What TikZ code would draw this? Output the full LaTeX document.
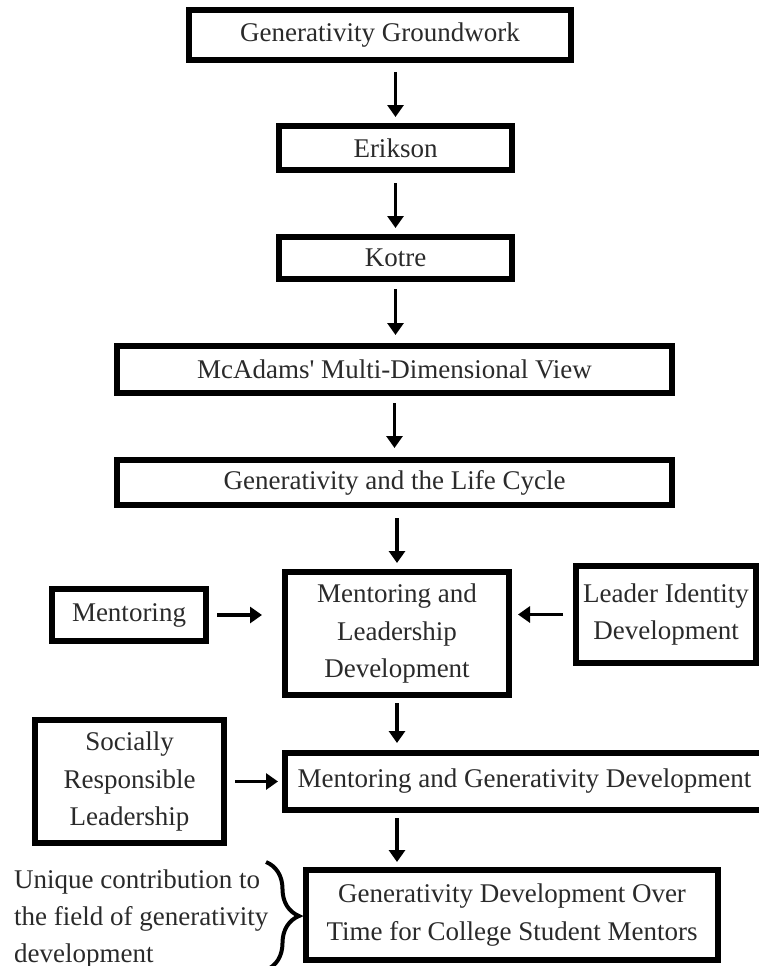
\documentclass[tikz,border=0pt]{standalone}
\usepackage{fontspec}
\setmainfont{Liberation Serif}
\usetikzlibrary{arrows.meta,decorations.pathreplacing,calc}
\definecolor{txt}{HTML}{2A2A2A}
\tikzset{
  bx/.style={draw=black, line width=5.5pt, align=center, text=txt, inner sep=0pt, outer sep=0pt,
    font=\fontsize{27}{37.5}\selectfont},
  arr/.style={line width=3.5pt, -{Triangle[width=16pt,length=12pt]}},
  lbl/.style={text=txt, align=left, inner sep=0pt, font=\fontsize{27}{37}\selectfont}
}
\begin{document}
\begin{tikzpicture}[x=1pt,y=-1pt]
\useasboundingbox (0,0) rectangle (759,966);
\clip (0,0) rectangle (759,966);
% boxes
\node[bx, minimum width=382, minimum height=50] (gg) at (380,35) {Generativity Groundwork};
\node[bx, minimum width=233, minimum height=44] (er) at (395.5,148) {Erikson};
\node[bx, minimum width=233, minimum height=42] (ko) at (395.5,258) {Kotre};
\node[bx, minimum width=555, minimum height=47] (mc) at (394.5,369.5) {McAdams\textquotesingle{} Multi-Dimensional View};
\node[bx, minimum width=555, minimum height=45] (lc) at (394.5,482.5) {Generativity and the Life Cycle};
\node[bx, minimum width=224, minimum height=123] (mld) at (397,633.5) {Mentoring and\\Leadership\\Development};
\node[bx, minimum width=154, minimum height=52] (me) at (129,615) {Mentoring};
\node[bx, minimum width=180, minimum height=97] (lid) at (666,614.5) {Leader Identity\\Development};
\node[bx, minimum width=189, minimum height=123] (srl) at (129.5,781.5) {Socially\\Responsible\\Leadership};
\node[bx, minimum width=479, minimum height=57] (mgd) at (524.5,781.5) {Mentoring and Generativity Development};
\node[bx, minimum width=412, minimum height=90] (gdt) at (512,915) {Generativity Development Over\\Time for College Student Mentors};
% vertical arrows
\draw[arr, shorten <=12pt, shorten >=9pt] (er.north |- gg.south) -- (er.north);
\draw[arr, shorten <=13pt, shorten >=9pt] (er.south) -- (ko.north);
\draw[arr, shorten <=10pt, shorten >=11pt] (ko.south) -- (ko.south |- mc.north);
\draw[arr, shorten <=10pt, shorten >=12pt] (mc.south) -- (lc.north);
\draw[arr, shorten <=13pt, shorten >=9pt] (mld.north |- lc.south) -- (mld.north);
\draw[arr, shorten <=8pt, shorten >=10pt] (mld.south) -- (mld.south |- mgd.north);
\draw[arr, shorten <=8pt, shorten >=8pt] (mld.south |- mgd.south) -- (mld.south |- gdt.north);
% horizontal arrows
\draw[arr, shorten <=11pt, shorten >=23pt] (me.east) -- (me.east -| mld.west);
\draw[arr, shorten <=13pt, shorten >=9pt] (lid.west) -- (lid.west -| mld.east);
\draw[arr, shorten <=11pt, shorten >=7pt] (srl.east) -- (srl.east -| mgd.west);
% brace and side note
\coordinate (bt) at (266,862);
\coordinate (bb) at (266,970);
\draw[line width=4pt, decorate, decoration={brace, amplitude=33pt, aspect=0.5}] (bt) -- (bb);
\node[lbl, anchor=base west] (n1) at (14,888) {Unique contribution to};
\node[lbl, anchor=base west] (n2) at (14,925) {the field of generativity};
\node[lbl, anchor=base west] (n3) at (14,962) {development};
\end{tikzpicture}
\end{document}
